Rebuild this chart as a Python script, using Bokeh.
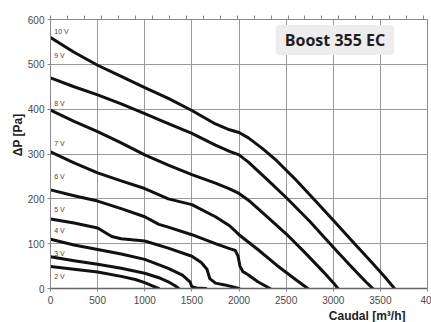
import math
from bokeh.plotting import figure
from bokeh.models import LinearAxis, FixedTicker, Label, ColumnDataSource, Range1d, Title
from bokeh.embed import file_html
from bokeh.resources import INLINE
from bokeh.core.properties import value

# ---- data ----
x_10v = [0, 250, 500, 750, 1000, 1250, 1500, 1750, 1900, 2000, 2100, 2250, 2400, 2600, 2800, 3000, 3200, 3400, 3550, 3650]
y_10v = [560, 527, 498, 473, 448, 424, 397, 367, 354, 348, 336, 312, 285, 243, 198, 152, 106, 60, 25, 0]

x_9v = [0, 250, 500, 750, 1000, 1250, 1500, 1750, 1900, 2000, 2100, 2300, 2500, 2750, 3000, 3200, 3350, 3420]
y_9v = [470, 450, 432, 412, 390, 368, 346, 320, 306, 298, 282, 243, 203, 150, 92, 47, 14, 0]

x_8v = [0, 250, 500, 750, 1000, 1250, 1500, 1750, 1900, 2000, 2100, 2300, 2500, 2700, 2900, 3000, 3050]
y_8v = [398, 373, 350, 325, 298, 275, 254, 235, 222, 212, 197, 160, 122, 80, 36, 13, 0]

x_7v = [0, 250, 500, 750, 1000, 1250, 1500, 1750, 1900, 2000, 2200, 2400, 2600, 2730]
y_7v = [305, 280, 258, 240, 223, 200, 187, 160, 140, 120, 87, 52, 20, 0]

x_6v = [0, 250, 500, 750, 1000, 1150, 1250, 1500, 1750, 1900, 1960, 1990, 2010, 2040, 2100, 2200, 2330]
y_6v = [220, 207, 195, 178, 160, 143, 137, 120, 100, 89, 85, 72, 50, 38, 30, 15, 0]

x_5v = [0, 250, 500, 650, 750, 1000, 1250, 1500, 1600, 1660, 1690, 1750, 1850, 2000]
y_5v = [155, 146, 135, 116, 111, 106, 90, 72, 58, 43, 22, 12, 8, 0]

x_4v = [0, 250, 500, 750, 1000, 1250, 1400, 1480, 1500, 1550, 1650]
y_4v = [110, 97, 87, 77, 65, 45, 30, 15, 4, 1, 0]

x_3v = [0, 250, 500, 750, 1000, 1150, 1250, 1330, 1360]
y_3v = [71, 62, 54, 45, 34, 24, 15, 5, 0]

x_2v = [0, 250, 500, 750, 900, 1000, 1100, 1147]
y_2v = [49, 43, 37, 27, 20, 13, 4, 0]

curve_labels = ["10 V", "9 V", "8 V", "7 V", "6 V", "5 V", "4 V", "3 V", "2 V"]
label_y = [574, 519, 412, 323, 249, 176, 130, 78, 27]
label_x = [40] * len(curve_labels)

x_ticks = [0, 500, 1000, 1500, 2000, 2500, 3000, 3500, 4000]
x_tick_overrides = {4000: "40"}  # the last label is cut off at the image edge
y_ticks = [0, 100, 200, 300, 400, 500, 600]
top_ticks = [180 * i for i in range(0, 23)]  # 50 l/s steps

title_text = "Boost 355 EC"
x_title = "Caudal [m³/h]"
y_title = "ΔP [Pa]"

curves = [(x_10v, y_10v), (x_9v, y_9v), (x_8v, y_8v), (x_7v, y_7v), (x_6v, y_6v),
          (x_5v, y_5v), (x_4v, y_4v), (x_3v, y_3v), (x_2v, y_2v)]

# ---- figure ----
p = figure(width=431, height=322, output_backend="svg", toolbar_location=None,
           x_range=Range1d(0, 4000), y_range=Range1d(0, 600),
           min_border_left=50, min_border_right=4, min_border_top=19, min_border_bottom=33)
p.background_fill_color = "white"
p.border_fill_color = "white"
p.outline_line_color = "#8a8a8a"
p.outline_line_width = 1

tick_font = "Liberation Sans"
for ax in p.xaxis:
    ax.ticker = FixedTicker(ticks=x_ticks)
    ax.major_label_overrides = x_tick_overrides
    ax.axis_line_color = "#666666"
    ax.axis_line_width = 1.5
    ax.major_tick_line_color = "#888888"
    ax.major_tick_out = 3
    ax.major_tick_in = 0
    ax.minor_tick_line_color = None
    ax.major_label_text_font = tick_font
    ax.major_label_text_font_size = "10px"
    ax.major_label_text_color = "#4a4a4a"
    ax.major_label_standoff = 4
for ax in p.yaxis:
    ax.ticker = FixedTicker(ticks=y_ticks)
    ax.axis_line_color = "#8a8a8a"
    ax.major_tick_line_color = "#888888"
    ax.major_tick_out = 3
    ax.major_tick_in = 0
    ax.minor_tick_line_color = None
    ax.major_label_text_font = tick_font
    ax.major_label_text_font_size = "10px"
    ax.major_label_text_color = "#4a4a4a"
    ax.major_label_standoff = 3

top = LinearAxis(ticker=FixedTicker(ticks=top_ticks))
top.major_label_text_font_size = "0px"
top.major_label_standoff = 0
top.major_tick_out = 4
top.major_tick_in = 0
top.major_tick_line_color = "#888888"
top.minor_tick_line_color = None
top.axis_line_color = "#8a8a8a"
p.add_layout(top, "above")

p.xgrid.ticker = FixedTicker(ticks=x_ticks)
p.ygrid.ticker = FixedTicker(ticks=y_ticks)
p.xgrid.grid_line_color = "#9a9a9a"
p.ygrid.grid_line_color = "#9a9a9a"
p.xgrid.grid_line_width = 1
p.ygrid.grid_line_width = 1

for xs, ys in curves:
    p.line(xs, ys, line_color="#111111", line_width=3, line_join="round", line_cap="round")

lab_src = ColumnDataSource(dict(x=label_x, y=label_y, t=curve_labels))
p.text(x="x", y="y", text="t", source=lab_src, text_font=value("Liberation Sans"),
       text_font_size="7px", text_color="#444444", text_align="left", text_baseline="middle")

p.add_layout(Label(x=3018, y=554, text=title_text, text_font="Open Sans", text_font_style="bold",
                   text_font_size="16px", text_color="#1e1e1e", text_align="center",
                   text_baseline="middle", background_fill_color="#ededed",
                   padding=dict(left=9, right=9, top=4, bottom=4), border_radius=4))

xt = Title(text=x_title, align="right", offset=22, text_font="Liberation Sans",
           text_font_style="bold", text_font_size="12px", text_color="#222222", standoff=0)
p.add_layout(xt, "below")
yt = Title(text=y_title, align="right", offset=94, text_font="Liberation Sans",
           text_font_style="bold", text_font_size="12px", text_color="#222222", standoff=0)
p.add_layout(yt, "left")

open("out.html", "w").write(file_html(p, INLINE))
